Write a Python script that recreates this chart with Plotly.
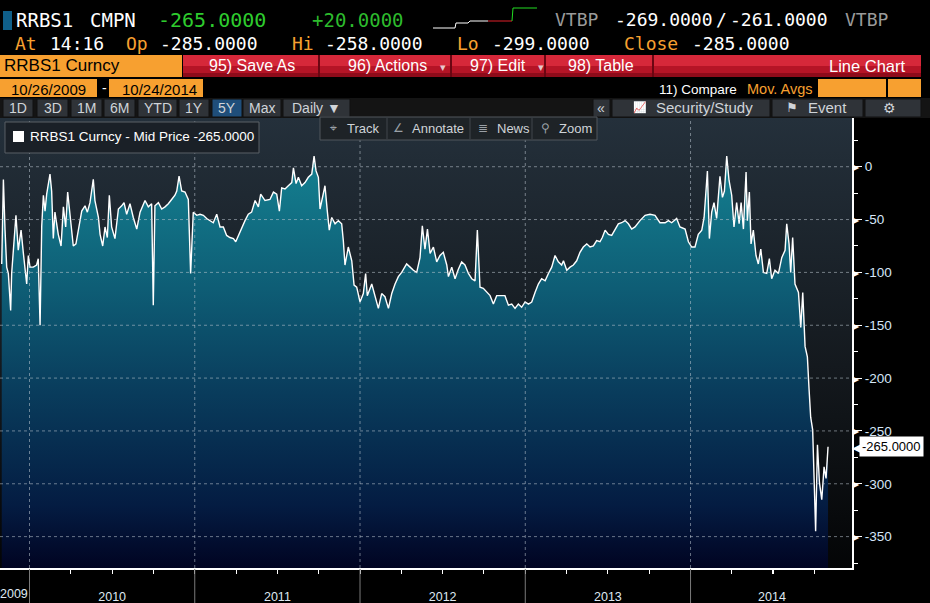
import plotly.graph_objects as go

# RRBS1 Curncy - Mid Price, daily, 10/26/2009 - 10/24/2014 (x in decimal years)
dates = [
    2009.832, 2009.842, 2009.852, 2009.862, 2009.872, 2009.886, 2009.892, 2009.902, 2009.918, 2009.932,
    2009.949, 2009.963, 2009.983, 2009.993, 2010.003, 2010.023, 2010.043, 2010.053, 2010.064, 2010.074,
    2010.084, 2010.094, 2010.104, 2010.124, 2010.134, 2010.144, 2010.154, 2010.174, 2010.191, 2010.205,
    2010.219, 2010.231, 2010.245, 2010.255, 2010.265, 2010.281, 2010.296, 2010.316, 2010.336, 2010.350,
    2010.366, 2010.386, 2010.396, 2010.417, 2010.427, 2010.443, 2010.457, 2010.471, 2010.483, 2010.497,
    2010.517, 2010.538, 2010.558, 2010.572, 2010.588, 2010.608, 2010.628, 2010.649, 2010.669, 2010.699,
    2010.719, 2010.739, 2010.749, 2010.759, 2010.780, 2010.800, 2010.820, 2010.840, 2010.860, 2010.880,
    2010.891, 2010.905, 2010.921, 2010.941, 2010.961, 2010.975, 2010.991, 2011.012, 2011.032, 2011.052,
    2011.072, 2011.092, 2011.112, 2011.133, 2011.153, 2011.173, 2011.193, 2011.213, 2011.234, 2011.248,
    2011.264, 2011.284, 2011.304, 2011.324, 2011.344, 2011.365, 2011.385, 2011.399, 2011.425, 2011.455,
    2011.476, 2011.496, 2011.512, 2011.526, 2011.546, 2011.566, 2011.587, 2011.597, 2011.613, 2011.627,
    2011.647, 2011.667, 2011.687, 2011.708, 2011.722, 2011.734, 2011.748, 2011.758, 2011.778, 2011.788,
    2011.802, 2011.814, 2011.829, 2011.849, 2011.869, 2011.889, 2011.899, 2011.909, 2011.929, 2011.950,
    2011.964, 2011.980, 2012.000, 2012.020, 2012.034, 2012.044, 2012.071, 2012.091, 2012.111, 2012.131,
    2012.151, 2012.172, 2012.192, 2012.212, 2012.232, 2012.252, 2012.282, 2012.303, 2012.323, 2012.343,
    2012.363, 2012.377, 2012.393, 2012.408, 2012.424, 2012.444, 2012.464, 2012.484, 2012.504, 2012.525,
    2012.535, 2012.555, 2012.575, 2012.595, 2012.615, 2012.635, 2012.656, 2012.676, 2012.696, 2012.710,
    2012.726, 2012.746, 2012.767, 2012.787, 2012.807, 2012.827, 2012.847, 2012.877, 2012.898, 2012.918,
    2012.938, 2012.958, 2012.978, 2012.999, 2013.019, 2013.039, 2013.059, 2013.079, 2013.099, 2013.120,
    2013.140, 2013.160, 2013.180, 2013.200, 2013.220, 2013.231, 2013.251, 2013.271, 2013.291, 2013.311,
    2013.331, 2013.351, 2013.372, 2013.392, 2013.412, 2013.432, 2013.452, 2013.466, 2013.483, 2013.503,
    2013.523, 2013.543, 2013.563, 2013.583, 2013.604, 2013.624, 2013.644, 2013.664, 2013.684, 2013.694,
    2013.725, 2013.755, 2013.785, 2013.815, 2013.846, 2013.866, 2013.886, 2013.916, 2013.936, 2013.967,
    2013.987, 2014.007, 2014.027, 2014.047, 2014.068, 2014.082, 2014.102, 2014.114, 2014.128, 2014.142,
    2014.158, 2014.178, 2014.193, 2014.205, 2014.219, 2014.233, 2014.249, 2014.263, 2014.279, 2014.294,
    2014.306, 2014.320, 2014.336, 2014.344, 2014.356, 2014.366, 2014.380, 2014.396, 2014.410, 2014.425,
    2014.441, 2014.461, 2014.477, 2014.491, 2014.511, 2014.532, 2014.552, 2014.572, 2014.582, 2014.596,
    2014.606, 2014.618, 2014.632, 2014.653, 2014.667, 2014.679, 2014.693, 2014.707, 2014.717, 2014.727,
    2014.739, 2014.747, 2014.757, 2014.768, 2014.780, 2014.794, 2014.808, 2014.820, 2014.832,
]
mid_price = [
    -92, -12, -60, -95, -101, -136, -101, -79, -46, -79,
    -60, -82, -111, -84, -95, -95, -93, -87, -150, -56,
    -27, -42, -26, -7, -23, -68, -43, -64, -75, -38,
    -57, -24, -43, -60, -75, -73, -60, -42, -37, -43,
    -34, -12, -32, -48, -64, -75, -57, -67, -27, -57,
    -68, -40, -37, -34, -45, -35, -48, -59, -43, -32,
    -38, -35, -131, -37, -34, -40, -38, -35, -31, -27,
    -23, -9, -23, -24, -31, -101, -43, -46, -45, -46,
    -49, -51, -53, -45, -57, -57, -65, -67, -68, -71,
    -65, -59, -51, -45, -43, -32, -38, -26, -32, -31,
    -24, -26, -42, -20, -21, -18, -15, -1, -16, -10,
    -18, -15, -10, -7, 10, -4, -10, -40, -27, -18,
    -42, -60, -48, -54, -51, -54, -70, -93, -76, -89,
    -112, -114, -128, -120, -101, -122, -111, -123, -134, -120,
    -123, -134, -120, -111, -104, -100, -92, -95, -98, -100,
    -86, -56, -78, -59, -82, -76, -90, -84, -81, -93,
    -104, -95, -106, -97, -90, -93, -101, -106, -108, -60,
    -114, -115, -119, -122, -130, -122, -122, -122, -131, -130,
    -134, -130, -133, -128, -130, -128, -119, -111, -106, -108,
    -101, -95, -84, -90, -93, -89, -98, -95, -93, -89,
    -81, -76, -73, -76, -75, -70, -71, -67, -60, -64,
    -65, -59, -54, -53, -51, -54, -59, -57, -53, -51,
    -46, -45, -46, -53, -53, -51, -53, -49, -57, -59,
    -71, -76, -76, -64, -60, -48, -4, -68, -43, -34,
    -49, -9, -29, -23, 10, -13, -27, -57, -34, -54,
    -34, -59, -5, -51, -24, -73, -60, -84, -92, -78,
    -100, -101, -87, -106, -98, -101, -86, -79, -54, -73,
    -100, -67, -111, -119, -152, -119, -170, -180, -210, -237,
    -249, -293, -345, -263, -299, -315, -284, -295, -265,
]

y_ticks = [0, -50, -100, -150, -200, -250, -300, -350]
year_starts = [2010, 2011, 2012, 2013, 2014]
year_label_pos = [2010.5, 2011.5, 2012.5, 2013.5, 2014.493]
year_labels = ["2010", "2011", "2012", "2013", "2014"]
last_price = -265.0

W, H = 930, 603
X_MIN, X_MAX = 2009.8215, 2014.977
Y_MIN, Y_MAX = -379.7, 46.1
MONO = "DejaVu Sans Mono"
SANS = "Liberation Sans, Arial, sans-serif"
ORANGE = "#f7a030"


def px(x):
    return x / W


def py(y):
    return 1 - y / H


shapes = []
annotations = []


def rect(x0, y0, x1, y1, fill, line=None):
    shapes.append(dict(type="rect", xref="paper", yref="paper",
                       x0=px(x0), x1=px(x1), y0=py(y1), y1=py(y0),
                       fillcolor=fill, layer="above",
                       line=dict(width=1 if line else 0, color=line or fill)))


def seg(x0, y0, x1, y1, color, width=1):
    shapes.append(dict(type="line", xref="paper", yref="paper",
                       x0=px(x0), x1=px(x1), y0=py(y0), y1=py(y1),
                       layer="above", line=dict(color=color, width=width)))


def text(x, y, s, color, size, family=SANS, anchor="left"):
    annotations.append(dict(xref="paper", yref="paper", x=px(x), y=py(y), text=s,
                            showarrow=False, xanchor=anchor, yanchor="middle",
                            font=dict(color=color, size=size, family=family)))


fig = go.Figure()

# plot background gradient
fig.add_trace(go.Scatter(
    x=[X_MIN, X_MAX, X_MAX, X_MIN, X_MIN], y=[Y_MIN, Y_MIN, Y_MAX, Y_MAX, Y_MIN],
    mode="lines", line=dict(width=0), fill="toself", hoverinfo="skip",
    fillgradient=dict(type="vertical", start=Y_MIN, stop=Y_MAX,
                      colorscale=[[0, "#040506"], [0.45, "#14191e"], [1, "#24303b"]]),
))
# baseline for the area fill
fig.add_trace(go.Scatter(x=[dates[0], dates[-1]], y=[Y_MIN, Y_MIN], mode="lines",
                         line=dict(width=0), hoverinfo="skip"))
fig.add_trace(go.Scatter(
    x=dates, y=mid_price, mode="lines", name="RRBS1 Curncy - Mid Price",
    line=dict(color="white", width=1.4), fill="tonexty",
    fillgradient=dict(type="vertical", start=Y_MIN, stop=15,
                      colorscale=[[0, "#010422"], [0.15, "#041c42"], [0.42, "#093c5c"],
                                  [0.67, "#0e5d75"], [0.92, "#13798b"], [1, "#15808f"]]),
))

# grid lines (drawn over the fill, as in the terminal)
for v in y_ticks:
    shapes.append(dict(type="line", xref="paper", yref="y", x0=0, x1=px(852), y0=v, y1=v,
                       layer="above", line=dict(color="rgba(190,200,210,0.55)", width=1, dash="3px,3px")))
for yr in year_starts:
    shapes.append(dict(type="line", xref="x", yref="paper", x0=yr, x1=yr, y0=py(568), y1=py(118),
                       layer="above", line=dict(color="rgba(190,200,210,0.55)", width=1, dash="3px,3px")))
    shapes.append(dict(type="line", xref="x", yref="paper", x0=yr, x1=yr, y0=0, y1=py(569),
                       layer="above", line=dict(color="#7a7a7a", width=1)))

# y tick triangles
for v in y_ticks:
    annotations.append(dict(xref="paper", yref="y", x=px(851), y=v, text="▶", showarrow=False,
                            xanchor="left", yanchor="middle", font=dict(color="white", size=8)))
# last price tag
annotations.append(dict(xref="paper", yref="y", x=px(850), y=last_price, text="◀", showarrow=False,
                        xanchor="left", yanchor="middle", font=dict(color="white", size=13)))
annotations.append(dict(xref="paper", yref="y", x=px(859), y=last_price, text="%.4f" % last_price,
                        showarrow=False, xanchor="left", yanchor="middle", bgcolor="white",
                        borderpad=2, font=dict(color="black", size=13, family=SANS)))
text(14, 594, "2009", "#dfe8f2", 12.5, anchor="center")

# ---- header row 1
rect(3, 11, 12, 30, "#0f5f8a")
text(14, 20, "RRBS1", "white", 19, MONO)
text(88, 20, "CMPN", "white", 19, MONO)
text(156, 20, "-265.0000", "#2ecc2e", 20, MONO)
text(310, 20, "+20.0000", "#2dbb2d", 19, MONO)
seg(433, 28, 455, 28, "white")
seg(455, 28, 456, 23, "white")
seg(456, 23, 468, 23, "white")
seg(468, 23, 470, 21, "white")
seg(470, 21, 488, 21, "white")
seg(488, 21, 512, 21, "#e0202a")
seg(512, 21, 513, 8, "#22dd22")
seg(513, 8, 537, 8, "#22dd22")
text(553, 20, "VTBP", "#9a9a9a", 18, MONO)
text(613, 20, "-269.0000", "white", 18, MONO)
text(714, 20, "/", "white", 18, MONO)
text(728, 20, "-261.0000", "white", 18, MONO)
text(843, 20, "VTBP", "#9a9a9a", 18, MONO)

# ---- header row 2
for x, s, c in [(13, "At", ORANGE), (48, "14:16", "white"), (124, "Op", ORANGE),
                (158, "-285.0000", "white"), (290, "Hi", ORANGE), (323, "-258.0000", "white"),
                (455, "Lo", ORANGE), (490, "-299.0000", "white"), (622, "Close", ORANGE),
                (690, "-285.0000", "white")]:
    text(x, 43, s, c, 18, MONO)

# ---- header row 3 (menu bar)
rect(0, 55, 182, 77, ORANGE)
text(2, 66, "RRBS1 Curncy", "black", 17)
rect(183, 55, 921, 66, "#d6283a")
rect(183, 66, 921, 73, "#b51426")
rect(183, 73, 921, 77, "#8e0b1a")
for x in [319, 451, 545, 653]:
    seg(x, 55, x, 77, "#6a0612", 2)
text(297, 66, "95) Save As", "white", 16, anchor="right")
text(429, 66, "96) Actions", "white", 16, anchor="right")
text(443, 67, "▾", "#e8c8cc", 11, anchor="center")
text(528, 66, "97) Edit", "white", 16, anchor="right")
text(541, 67, "▾", "#e8c8cc", 11, anchor="center")
text(636, 66, "98) Table", "white", 16, anchor="right")
text(908, 66, "Line Chart", "white", 16.5, anchor="right")

# ---- header row 4 (dates / compare)
rect(0, 79, 97, 97, ORANGE)
text(48, 89, "10/26/2009", "black", 15, anchor="center")
text(104, 88, "-", "white", 14, anchor="center")
rect(109, 79, 203, 97, ORANGE)
text(159, 89, "10/24/2014", "black", 15, anchor="center")
text(657, 89, "11) Compare", "white", 13.5)
text(745, 89, "Mov. Avgs", ORANGE, 14.5)
rect(818, 79, 886, 97, ORANGE)
rect(888, 79, 921, 97, ORANGE)

# ---- header row 5 (period buttons)
rect(0, 98, 930, 118, "#141414")
buttons = [(3, 33, "1D"), (37, 68, "3D"), (71, 102, "1M"), (104, 135, "6M"), (138, 177, "YTD"),
           (179, 209, "1Y"), (212, 242, "5Y"), (243, 281, "Max"), (283, 350, "Daily ▼")]
for x0, x1, s in buttons:
    rect(x0, 99, x1, 117, "#1f4e7a" if s == "5Y" else "#2f3338", "#101010")
    text((x0 + x1) / 2, 108, s, "#d0d4d8", 14, anchor="center")
rect(593, 99, 610, 117, "#2f3338", "#101010")
text(601, 108, "«", "#d0d4d8", 14, anchor="center")
rect(612, 99, 770, 117, "#2f3338", "#101010")
text(640, 108, "📈", "#d0d4d8", 11, anchor="center")
text(654, 108, "Security/Study", "#d0d4d8", 15)
rect(772, 99, 863, 117, "#2f3338", "#101010")
text(792, 108, "⚑", "#d0d4d8", 13, anchor="center")
text(806, 108, "Event", "#d0d4d8", 15)
rect(865, 99, 921, 117, "#2f3338", "#101010")
text(889, 108, "⚙", "#d0d4d8", 14, anchor="center")

# ---- legend box and chart toolbar
shapes.append(dict(type="path", xref="paper", yref="paper", layer="above",
                   path="M %f,%f L %f,%f L %f,%f L %f,%f Z" % (px(5), py(122), px(259), py(122),
                                                          px(259), py(153), px(5), py(153)),
                   fillcolor="#1a2027", line=dict(color="#5a6066", width=1)))
rect(13, 131, 24, 142, "white")
text(28, 137, "RRBS1 Curncy - Mid Price -265.0000", "white", 13.5)
rect(320, 117, 597, 140, "#1e2327", "#50565c")
for x in [387, 470, 532]:
    seg(x, 118, x, 139, "#40464c")
for x, icon, s in [(333, "⌖", "Track"), (398, "∠", "Annotate"), (483, "≣", "News"), (545, "⚲", "Zoom")]:
    text(x, 128, icon, "#9aa0a6", 12, anchor="center")
    text(x + 12, 128, s, "#cfd3d7", 13)

fig.update_layout(
    width=W, height=H, margin=dict(l=0, r=0, t=0, b=0, pad=0),
    paper_bgcolor="black", plot_bgcolor="black", showlegend=False,
    shapes=shapes, annotations=annotations,
    xaxis=dict(domain=[0, px(852)], range=[X_MIN, X_MAX], showgrid=False, zeroline=False,
               showline=True, linecolor="white", linewidth=2,
               tickvals=year_label_pos, ticktext=year_labels, ticks="outside", ticklen=4,
               ticklabelstandoff=12,
               tickcolor="white", tickfont=dict(color="#dfe8f2", size=12.5, family=SANS),
               minor=dict(tick0=2010, dtick=0.25, ticks="outside", ticklen=4, tickcolor="white")),
    yaxis=dict(domain=[py(568), py(118)], range=[Y_MIN, Y_MAX], side="right", showgrid=False,
               zeroline=False, showline=True, linecolor="white", linewidth=2,
               tickvals=y_ticks, ticktext=[str(v) for v in y_ticks], ticks="outside", ticklen=8,
               tickcolor="white", tickfont=dict(color="#d6e6f8", size=13.5, family=SANS),
               minor=dict(dtick=25, ticks="outside", ticklen=4, tickcolor="white")),
)

# the page's default body margin would push the 930x603 figure off the window
fig.write_html("out.html", config={"displayModeBar": False},
               post_script="document.body.style.margin = '0px';")
